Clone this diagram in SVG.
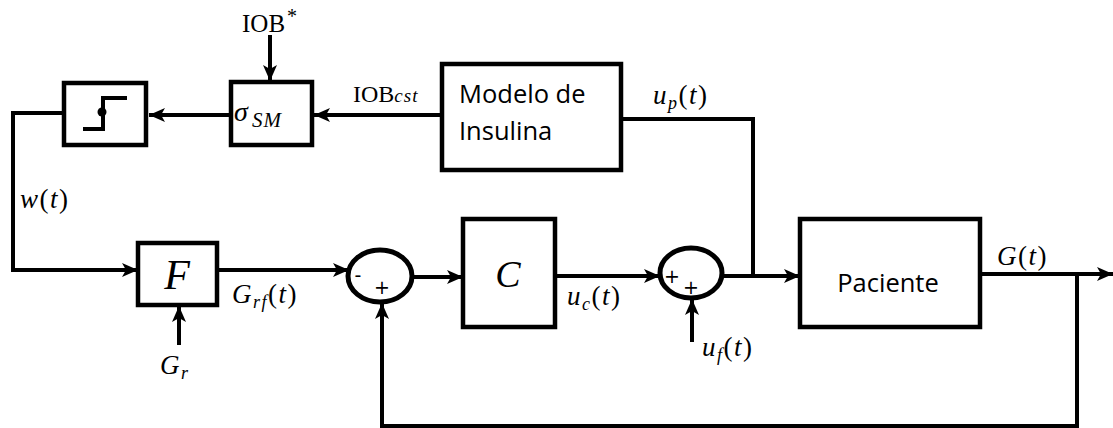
<svg xmlns="http://www.w3.org/2000/svg" width="1113" height="428" viewBox="0 0 1113 428">
<style>
.box{fill:#fff;stroke:#000;stroke-width:4.5}
.sum{fill:#fff;stroke:#000;stroke-width:5}
.ln{fill:none;stroke:#000;stroke-width:4}
.m{font-family:"Liberation Serif","DejaVu Serif",serif;fill:#000}
.i{font-style:italic}
.lb{font-size:27px;letter-spacing:1.5px}
.s{font-family:"Open Sans","Noto Sans",sans-serif;fill:#000;font-size:25.5px}
.sg{font-family:"DejaVu Sans","Liberation Sans",sans-serif;fill:#000;font-size:19px}
</style>
<defs>
<marker id="ah" markerUnits="userSpaceOnUse" markerWidth="18" markerHeight="16" refX="16" refY="7" orient="auto">
<path d="M0,0 L16,7 L0,14 L4,7 z" fill="#000"/>
</marker>
</defs>
<g id="connectors">
<path class="ln" d="M442,115 L314,115" marker-end="url(#ah)"/>
<path class="ln" d="M231,115 L149,115" marker-end="url(#ah)"/>
<path class="ln" d="M270,35 L270,81" marker-end="url(#ah)"/>
<path class="ln" d="M64,113 L13,113 L13,270 L138,270" marker-end="url(#ah)"/>
<path class="ln" d="M179,345 L179,306" marker-end="url(#ah)"/>
<path class="ln" d="M217,270 L349,270" marker-end="url(#ah)"/>
<path class="ln" d="M413,277 L463,277" marker-end="url(#ah)"/>
<path class="ln" d="M555,276 L660,276" marker-end="url(#ah)"/>
<path class="ln" d="M692,342 L692,299" marker-end="url(#ah)"/>
<path class="ln" d="M723,276 L800,276" marker-end="url(#ah)"/>
<path class="ln" d="M621,119 L753,119 L753,276"/>
<path class="ln" d="M980,274 L1113,274" marker-end="url(#ah)"/>
<path class="ln" d="M1077,274 L1077,426 L382,426 L382,303" marker-end="url(#ah)"/>
</g>
<g id="step">
<rect class="box" x="64" y="83" width="82" height="62"/>
<path class="ln" d="M83,129 L103,129 L103,98 L127,98"/>
<circle cx="102" cy="112" r="4.5" fill="#000"/>
</g>
<g id="sigma">
<rect class="box" x="231" y="82" width="81" height="63"/>
<text class="m i" x="234" y="121" font-size="28">σ</text>
<text class="m i" x="252" y="127" font-size="21" letter-spacing="1">SM</text>
</g>
<g id="modelo">
<rect class="box" x="442" y="64" width="179" height="106"/>
<text class="s" x="459" y="103">Modelo de</text>
<text class="s" x="459" y="140">Insulina</text>
</g>
<g id="F">
<rect class="box" x="138" y="243" width="79" height="62"/>
<text class="m i" x="177" y="289" font-size="42" text-anchor="middle">F</text>
</g>
<g id="sum1">
<ellipse class="sum" cx="380" cy="276" rx="32" ry="26"/>
<text class="sg" x="358" y="282" text-anchor="middle">-</text>
<text class="sg" x="382" y="294" text-anchor="middle">+</text>
</g>
<g id="C">
<rect class="box" x="463" y="219" width="92" height="108"/>
<text class="m i" x="508" y="287" font-size="38" text-anchor="middle">C</text>
</g>
<g id="sum2">
<ellipse class="sum" cx="691" cy="273" rx="31" ry="25"/>
<text class="sg" x="672" y="283" text-anchor="middle">+</text>
<text class="sg" x="691" y="294" text-anchor="middle">+</text>
</g>
<g id="paciente">
<rect class="box" x="800" y="219" width="180" height="108"/>
<text class="s" x="888" y="292" text-anchor="middle">Paciente</text>
</g>
<g id="labels">
<text class="m" x="242" y="32" font-size="25">IOB<tspan font-size="20" dy="-9" dx="2">*</tspan></text>
<text class="m" x="353" y="102" font-size="24">IOB<tspan class="i" font-size="19" letter-spacing="1">cst</tspan></text>
<text class="m i lb" x="653" y="104">u<tspan font-size="18" dy="5">p</tspan><tspan font-style="normal" dy="-5">(</tspan>t<tspan font-style="normal">)</tspan></text>
<text class="m i lb" x="20" y="208">w<tspan font-style="normal">(</tspan>t<tspan font-style="normal">)</tspan></text>
<text class="m i lb" x="232" y="303">G<tspan font-size="18" dy="5">rf</tspan><tspan font-style="normal" dy="-5">(</tspan>t<tspan font-style="normal">)</tspan></text>
<text class="m i lb" x="160" y="374">G<tspan font-size="18" dy="5">r</tspan></text>
<text class="m i lb" x="567" y="305">u<tspan font-size="18" dy="5">c</tspan><tspan font-style="normal" dy="-5">(</tspan>t<tspan font-style="normal">)</tspan></text>
<text class="m i lb" x="702" y="356">u<tspan font-size="18" dy="5">f</tspan><tspan font-style="normal" dy="-5">(</tspan>t<tspan font-style="normal">)</tspan></text>
<text class="m i lb" x="997" y="265">G<tspan font-style="normal">(</tspan>t<tspan font-style="normal">)</tspan></text>
</g>
</svg>
